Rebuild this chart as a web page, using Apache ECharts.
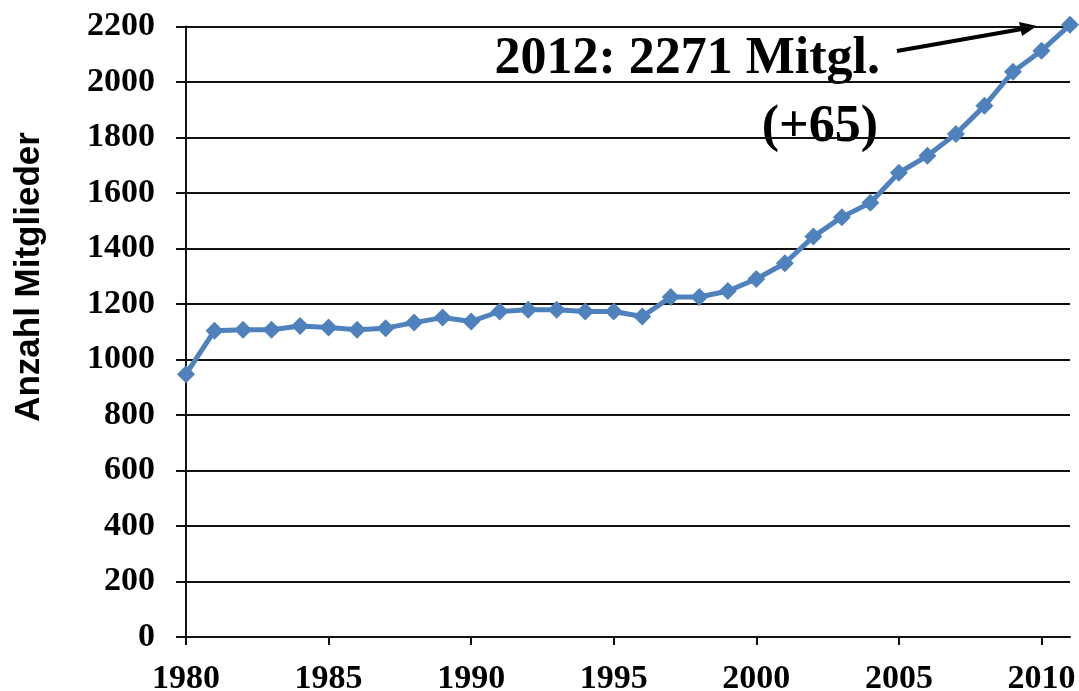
<!DOCTYPE html>
<html>
<head>
<meta charset="utf-8">
<script src="https://cdn.jsdelivr.net/npm/echarts@6/dist/echarts.min.js"></script>
<style>
html,body{margin:0;padding:0;background:#fff;}
#chart{width:1079px;height:691px;}
</style>
</head>
<body>
<div id="chart"></div>
<script>
var years = ['1980','1981','1982','1983','1984','1985','1986','1987','1988','1989','1990','1991','1992','1993','1994','1995','1996','1997','1998','1999','2000','2001','2002','2003','2004','2005','2006','2007','2008','2009','2010','2011'];
var members = [947,1104,1107,1107,1121,1115,1107,1113,1133,1151,1137,1173,1179,1179,1173,1173,1155,1225,1225,1247,1290,1347,1443,1513,1565,1673,1734,1813,1914,2037,2113,2206];
var yTicks = {min: 0, max: 2200, interval: 200};
var yTitle = 'Anzahl Mitglieder';
var noteLine1 = '2012: 2271 Mitgl.';
var noteLine2 = '(+65)';

var serif = '"Liberation Serif", "Times New Roman", serif';
var sans = '"Liberation Sans", Arial, sans-serif';

var chart = echarts.init(document.getElementById('chart'), null, {renderer: 'canvas'});
chart.setOption({
  animation: false,
  backgroundColor: '#ffffff',
  grid: {left: 186, right: 9, top: 26.5, bottom: 54, containLabel: false, outerBoundsMode: 'none'},
  xAxis: {
    type: 'category',
    data: years,
    boundaryGap: false,
    axisLine: {show: true, lineStyle: {color: '#111', width: 2}},
    axisTick: {show: true, interval: 4, length: 8, lineStyle: {color: '#111', width: 2}},
    axisLabel: {interval: 4, margin: 25, color: '#000', fontFamily: serif, fontWeight: 'bold', fontSize: 34},
    splitLine: {show: false}
  },
  yAxis: {
    type: 'value',
    min: yTicks.min, max: yTicks.max, interval: yTicks.interval,
    axisLine: {show: true, lineStyle: {color: '#111', width: 2}},
    axisTick: {show: true, length: 10, lineStyle: {color: '#111', width: 2}},
    axisLabel: {margin: 31, color: '#000', fontFamily: serif, fontWeight: 'bold', fontSize: 34,
      formatter: function (v) { return String(v); }},
    splitLine: {show: true, lineStyle: {color: '#111', width: 2}}
  },
  series: [{
    type: 'line',
    data: members,
    symbol: 'diamond',
    symbolSize: 18,
    showSymbol: true,
    clip: false,
    lineStyle: {color: '#4F81BD', width: 5},
    itemStyle: {color: '#4F81BD'}
  }],
  graphic: [
    {
      type: 'text', x: 29, y: 277, rotation: Math.PI / 2,
      style: {text: yTitle, fill: '#000', font: 'bold 35px ' + sans, align: 'center', verticalAlign: 'middle'}
    },
    {
      type: 'text', x: 880, y: 60,
      style: {text: noteLine1, fill: '#000', font: 'bold 52px ' + serif, align: 'right', verticalAlign: 'middle'}
    },
    {
      type: 'text', x: 878, y: 128,
      style: {text: noteLine2, fill: '#000', font: 'bold 52px ' + serif, align: 'right', verticalAlign: 'middle'}
    },
    {
      type: 'line',
      shape: {x1: 897, y1: 51, x2: 1022, y2: 29},
      style: {stroke: '#000', lineWidth: 4}
    },
    {
      type: 'polygon',
      shape: {points: [[1037, 26], [1019, 22], [1022, 36]]},
      style: {fill: '#000'}
    }
  ]
});
</script>
</body>
</html>
